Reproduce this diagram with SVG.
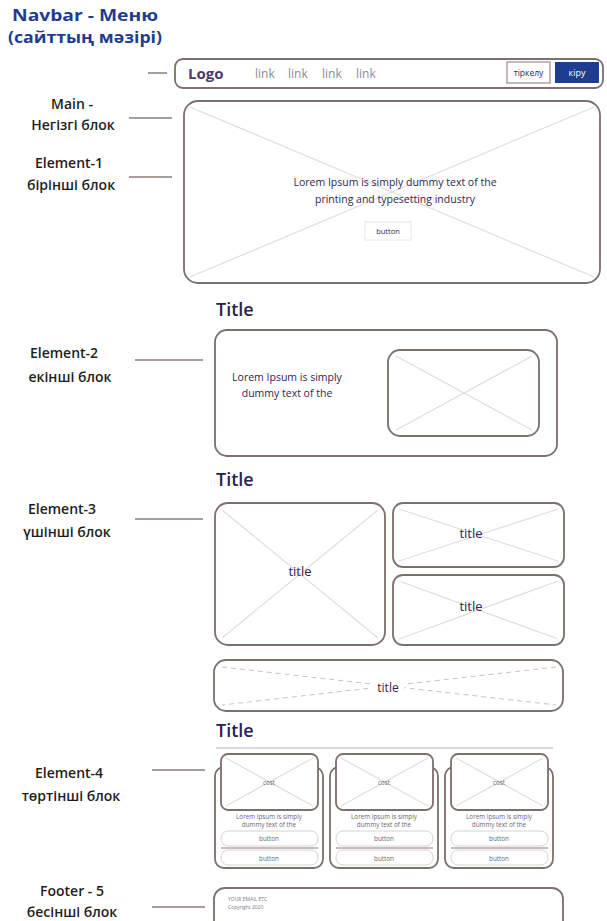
<svg xmlns="http://www.w3.org/2000/svg" width="607" height="921" viewBox="0 0 607 921">
<style>
  .hdr{font-family:"Open Sans","Noto Sans",sans-serif;font-weight:700;font-size:16px;fill:#1f3d8e}
  .lbl{font-family:"Open Sans","Noto Sans",sans-serif;font-weight:600;font-size:14px;fill:#1e1e1e;text-anchor:middle}
  .box{fill:#fff;stroke:#7d6f6b;stroke-width:1.8}
  .cross{stroke:#e4dcdc;stroke-width:1.2}
  .dcross{stroke:#c9c2c2;stroke-width:1;stroke-dasharray:5 4}
  .conn{stroke:#8a7c78;stroke-width:1.5}
  .wt{font-family:"Open Sans","Noto Sans",sans-serif;fill:#2e2650;text-anchor:middle}
  .title{font-family:"Open Sans","Noto Sans",sans-serif;font-weight:600;font-size:18px;fill:#2b2150}
  .link{font-family:"Open Sans","Noto Sans",sans-serif;font-size:12px;fill:#8c8c96}
  .sm{font-family:"Open Sans","Noto Sans",sans-serif;font-size:6.3px;fill:#6a6676;text-anchor:middle}
  .btn{fill:#fff;stroke:#d8d2d2;stroke-width:1}
</style>
<rect width="607" height="921" fill="#fff"/>

<g id="header">
  <text class="hdr" x="12" y="21" textLength="146" lengthAdjust="spacingAndGlyphs">Navbar - Меню</text>
  <text class="hdr" x="8" y="43" textLength="154" lengthAdjust="spacingAndGlyphs">(сайттың мәзірі)</text>
</g>

<g id="labels">
  <text class="lbl" x="72" y="109">Main -</text>
  <text class="lbl" x="73" y="130">Негізгі блок</text>
  <text class="lbl" x="69" y="168">Element-1</text>
  <text class="lbl" x="71" y="190">бірінші блок</text>
  <text class="lbl" x="64" y="358">Element-2</text>
  <text class="lbl" x="70" y="382">екінші блок</text>
  <text class="lbl" x="62" y="514">Element-3</text>
  <text class="lbl" x="67" y="537">үшінші блок</text>
  <text class="lbl" x="69" y="778">Element-4</text>
  <text class="lbl" x="71" y="801">төртінші блок</text>
  <text class="lbl" x="72" y="896">Footer - 5</text>
  <text class="lbl" x="72" y="917">бесінші блок</text>
</g>

<g id="connectors">
  <line class="conn" x1="148" y1="73" x2="167" y2="73"/>
  <line class="conn" x1="129" y1="118" x2="172" y2="118"/>
  <line class="conn" x1="129" y1="177" x2="172" y2="177"/>
  <line class="conn" x1="135" y1="360" x2="203" y2="360"/>
  <line class="conn" x1="135" y1="519" x2="203" y2="519"/>
  <line class="conn" x1="152" y1="770" x2="205" y2="770"/>
  <line class="conn" x1="152" y1="907" x2="205" y2="907"/>
</g>

<g id="navbar">
  <rect class="box" x="175" y="59" width="428" height="29" rx="8"/>
  <text x="188" y="79" font-family="Open Sans, Noto Sans, sans-serif" font-weight="700" font-size="15" fill="#4a3c6e">Logo</text>
  <text class="link" x="255" y="78">link</text>
  <text class="link" x="288" y="78">link</text>
  <text class="link" x="322" y="78">link</text>
  <text class="link" x="356" y="78">link</text>
  <rect x="507" y="62" width="43" height="21" fill="#fff" stroke="#9a8c8a" stroke-width="1.2"/>
  <text class="wt" x="528.5" y="76" font-size="8.5">тіркелу</text>
  <rect x="555" y="62" width="44" height="21" fill="#1f3d8e"/>
  <text x="577" y="76" font-family="Open Sans, Noto Sans, sans-serif" font-size="9" fill="#fff" text-anchor="middle">кіру</text>
</g>

<g id="element-1">
  <rect class="box" x="184" y="101" width="416" height="182" rx="14"/>
  <line class="cross" x1="190" y1="107" x2="594" y2="277"/>
  <line class="cross" x1="594" y1="107" x2="190" y2="277"/>
  <text class="wt" x="395" y="186" font-size="10.5">Lorem Ipsum is simply dummy text of the</text>
  <text class="wt" x="395" y="203" font-size="10.5">printing and typesetting industry</text>
  <rect x="365" y="222" width="46" height="18" fill="#fff" stroke="#ece6e6" stroke-width="1"/>
  <text class="wt" x="388" y="234" font-size="7.5" fill="#8a8494">button</text>
</g>

<g id="element-2">
  <text class="title" x="216" y="316">Title</text>
  <rect class="box" x="215" y="330" width="342" height="126" rx="12"/>
  <text class="wt" x="287" y="381" font-size="10.5">Lorem Ipsum is simply</text>
  <text class="wt" x="287" y="397" font-size="10.5">dummy text of the</text>
  <rect class="box" x="388" y="350" width="151" height="86" rx="12"/>
  <line class="cross" x1="396" y1="356" x2="532" y2="430"/>
  <line class="cross" x1="532" y1="356" x2="396" y2="430"/>
</g>

<g id="element-3">
  <text class="title" x="216" y="486">Title</text>
  <g id="e3-big">
    <rect class="box" x="215" y="503" width="170" height="142" rx="13"/>
    <line class="cross" x1="222" y1="510" x2="378" y2="638"/>
    <line class="cross" x1="378" y1="510" x2="222" y2="638"/>
    <text class="wt" x="300" y="576" font-size="13">title</text>
  </g>
  <g id="e3-top">
    <rect class="box" x="393" y="503" width="171" height="64" rx="10"/>
    <line class="cross" x1="399" y1="509" x2="558" y2="561"/>
    <line class="cross" x1="558" y1="509" x2="399" y2="561"/>
    <text class="wt" x="471" y="538" font-size="13">title</text>
  </g>
  <g id="e3-bottom">
    <rect class="box" x="393" y="575" width="171" height="70" rx="10"/>
    <line class="cross" x1="399" y1="581" x2="558" y2="639"/>
    <line class="cross" x1="558" y1="581" x2="399" y2="639"/>
    <text class="wt" x="471" y="611" font-size="13">title</text>
  </g>
  <g id="e3-wide">
    <rect class="box" x="214" y="660" width="349" height="51" rx="12"/>
    <line class="dcross" x1="222" y1="667" x2="556" y2="705"/>
    <line class="dcross" x1="556" y1="667" x2="222" y2="705"/>
    <rect x="372" y="681" width="32" height="14" fill="#fff"/>
    <text class="wt" x="388" y="692" font-size="12">title</text>
  </g>
</g>

<g id="element-4">
  <text class="title" x="216" y="737">Title</text>
  <line x1="216" y1="748" x2="553" y2="748" stroke="#b8aeae" stroke-width="1"/>
  <g id="card-1">
    <rect class="box" x="215" y="767" width="108" height="101" rx="9"/>
    <rect class="box" x="221" y="754" width="97" height="56" rx="7"/>
    <line class="cross" x1="226" y1="758" x2="313" y2="806"/>
    <line class="cross" x1="313" y1="758" x2="226" y2="806"/>
    <text class="sm" x="269" y="785" font-size="7">cost</text>
    <text class="sm" x="269" y="819">Lorem Ipsum is simply</text>
    <text class="sm" x="269" y="827">dummy text of the</text>
    <rect class="btn" x="221" y="831" width="97" height="15" rx="7"/>
    <text class="sm" x="269" y="841" font-size="8">button</text>
    <line x1="221" y1="848" x2="318" y2="848" stroke="#8a7c78" stroke-width="1"/>
    <rect class="btn" x="221" y="850" width="97" height="15" rx="7"/>
    <text class="sm" x="269" y="861" font-size="8.5" fill="#5e5868">button</text>
  </g>
  <g id="card-2">
    <rect class="box" x="330" y="767" width="108" height="101" rx="9"/>
    <rect class="box" x="336" y="754" width="97" height="56" rx="7"/>
    <line class="cross" x1="341" y1="758" x2="428" y2="806"/>
    <line class="cross" x1="428" y1="758" x2="341" y2="806"/>
    <text class="sm" x="384" y="785" font-size="7">cost</text>
    <text class="sm" x="384" y="819">Lorem Ipsum is simply</text>
    <text class="sm" x="384" y="827">dummy text of the</text>
    <rect class="btn" x="336" y="831" width="97" height="15" rx="7"/>
    <text class="sm" x="384" y="841" font-size="8">button</text>
    <line x1="336" y1="848" x2="433" y2="848" stroke="#8a7c78" stroke-width="1"/>
    <rect class="btn" x="336" y="850" width="97" height="15" rx="7"/>
    <text class="sm" x="384" y="861" font-size="8.5" fill="#5e5868">button</text>
  </g>
  <g id="card-3">
    <rect class="box" x="445" y="767" width="108" height="101" rx="9"/>
    <rect class="box" x="451" y="754" width="97" height="56" rx="7"/>
    <line class="cross" x1="456" y1="758" x2="543" y2="806"/>
    <line class="cross" x1="543" y1="758" x2="456" y2="806"/>
    <text class="sm" x="499" y="785" font-size="7">cost</text>
    <text class="sm" x="499" y="819">Lorem Ipsum is simply</text>
    <text class="sm" x="499" y="827">dummy text of the</text>
    <rect class="btn" x="451" y="831" width="97" height="15" rx="7"/>
    <text class="sm" x="499" y="841" font-size="8">button</text>
    <line x1="451" y1="848" x2="548" y2="848" stroke="#8a7c78" stroke-width="1"/>
    <rect class="btn" x="451" y="850" width="97" height="15" rx="7"/>
    <text class="sm" x="499" y="861" font-size="8.5" fill="#5e5868">button</text>
  </g>
</g>

<g id="footer">
  <rect class="box" x="214" y="888" width="349" height="44" rx="11"/>
  <text x="228" y="901" font-family="Open Sans, Noto Sans, sans-serif" font-size="5" fill="#7a7a86">YOUR EMAIL ETC</text>
  <text x="228" y="909" font-family="Open Sans, Noto Sans, sans-serif" font-size="5" fill="#7a7a86">Copyright 2020</text>
</g>
</svg>
